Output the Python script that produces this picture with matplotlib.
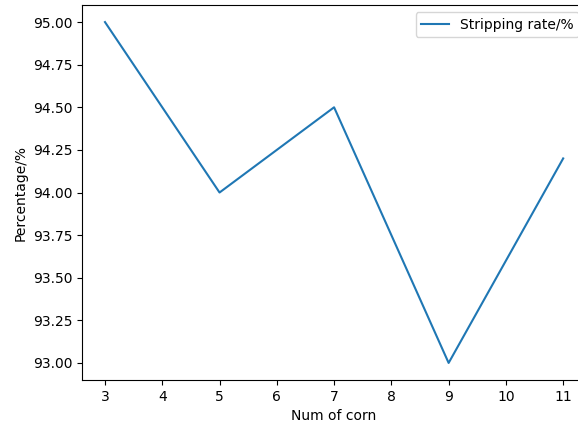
import matplotlib
matplotlib.use("Agg")
import matplotlib.pyplot as plt

num_corn = [3, 5, 7, 9, 11]
stripping_rate = [95.0, 94.0, 94.5, 93.0, 94.2]

fig = plt.figure(figsize=(5.78, 4.30), dpi=100)
ax = fig.add_axes([0.142, 0.1163, 0.872, 0.872])
ax.plot(num_corn, stripping_rate, label="Stripping rate/%")
ax.set_xlabel("Num of corn")
ax.set_ylabel("Percentage/%")
ax.set_xticks(range(3, 12))
ax.yaxis.set_major_formatter(matplotlib.ticker.FormatStrFormatter("%.2f"))
ax.legend(loc="upper right")

fig.savefig("out.png", dpi=100)
